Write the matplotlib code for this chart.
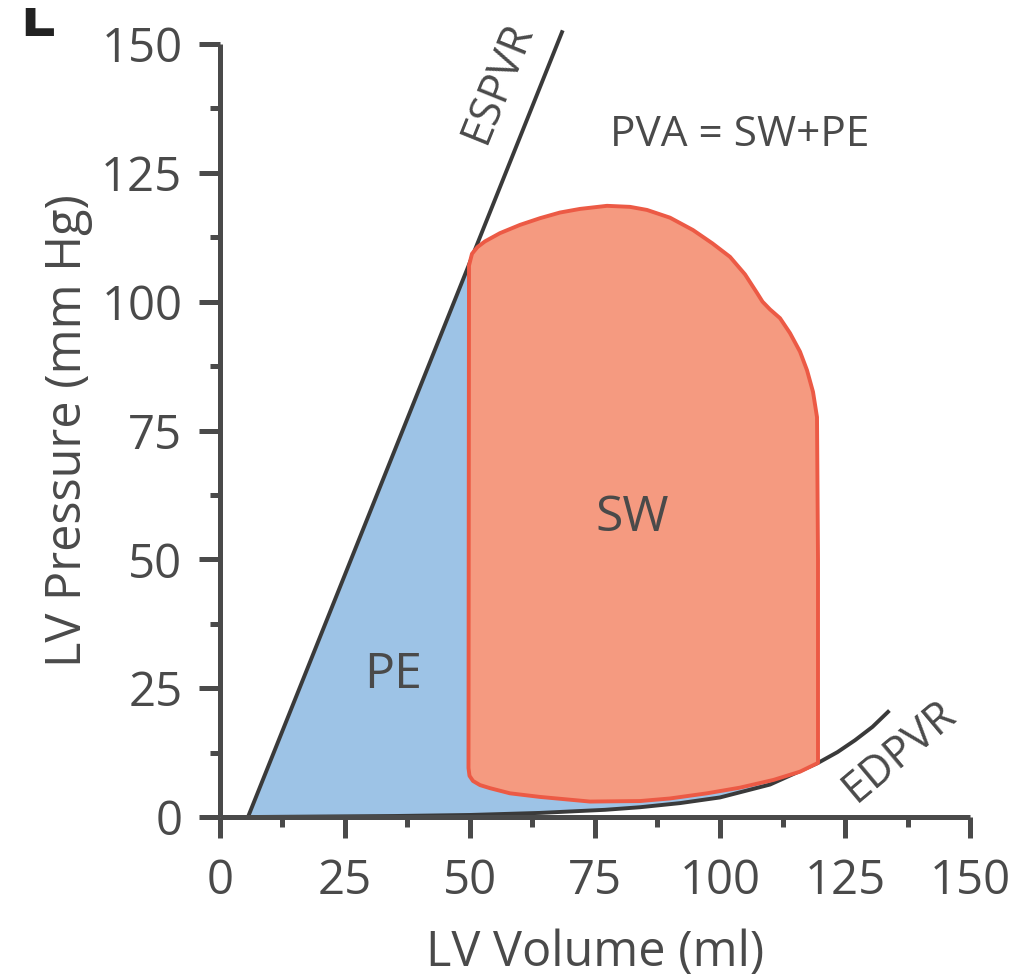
import matplotlib.pyplot as plt
from matplotlib.transforms import Bbox

plt.rcParams['font.family'] = ['Open Sans', 'DejaVu Sans']

# ESPVR (end-systolic pressure-volume relation), straight line
espvr_vol = [5.6, 68.4]
espvr_pres = [0, 152.3]

# EDPVR (end-diastolic pressure-volume relation)
edpvr_vol = [5.6, 20, 35, 50, 64, 77, 84, 92, 100, 110, 119.6, 123.5, 127, 130.5, 133.6]
edpvr_pres = [0, 0.1, 0.2, 0.4, 0.8, 1.4, 1.9, 2.7, 3.8, 6.3, 10.5, 12.6, 14.9, 17.5, 20.4]

# PV loop outline (counter-clockwise from top-left corner)
loop_vol = [50.4, 49.8, 49.7, 49.9, 50.6, 52.0, 54.0, 58.0, 64.0, 74.0, 84.0, 90.0,
            97.4, 104.0, 110.7, 116.0, 119.6,
            119.6, 119.4, 118.6, 117.4, 116.0, 114.0, 112.0, 110.0, 108.5, 107.4,
            105.0, 102.0, 98.5, 94.6, 90.0, 85.4, 82.0, 77.4, 72.0, 68.0, 64.0,
            60.0, 56.0, 53.0, 51.5]
loop_pres = [109.3, 107.0, 9.5, 8.0, 7.0, 6.2, 5.6, 4.6, 3.9, 3.0, 3.1, 3.6,
             4.6, 5.7, 7.2, 8.8, 10.5,
             50.0, 77.6, 82.5, 86.7, 90.3, 93.9, 96.8, 98.5, 100.0, 101.7,
             105.3, 108.7, 111.3, 113.9, 116.3, 117.8, 118.4, 118.6, 118.0, 117.3, 116.2,
             114.9, 113.3, 111.7, 110.6]

x_ticks = [0, 25, 50, 75, 100, 125, 150]
y_ticks = [0, 25, 50, 75, 100, 125, 150]
minor_ticks = [12.5, 37.5, 62.5, 87.5, 112.5, 137.5]

dark = '#4a4a4a'
blue = '#9dc3e6'
salmon = '#f59a80'
red = '#ec5a45'

fig = plt.figure(figsize=(10.17, 9.8), dpi=100)
ax = fig.add_axes([0.2163, 0.1663, 0.7375, 0.7888])

# blue potential energy area: ESPVR, under the loop, back along EDPVR
pe_vol = [espvr_vol[0], 50.0, 119.6] + edpvr_vol[::-1][5:]
pe_pres = [espvr_pres[0], 107.7, 10.5] + edpvr_pres[::-1][5:]
ax.fill(pe_vol, pe_pres, color=blue, lw=0, zorder=1)

ax.plot(espvr_vol, espvr_pres, color='#3a3a3a', lw=2.8, clip_on=False, zorder=2)
ax.plot(edpvr_vol, edpvr_pres, color='#3a3a3a', lw=2.8, clip_on=False, zorder=2)

ax.fill(loop_vol, loop_pres, facecolor=salmon, edgecolor=red, lw=2.8,
        joinstyle='round', zorder=3)

ax.text(34.6, 27.6, 'PE', fontsize=36, color=dark, ha='center', va='center', zorder=4)
ax.text(82.4, 58, 'SW', fontsize=36, color=dark, ha='center', va='center', zorder=4)
ax.text(104, 132.4, 'PVA = SW+PE', fontsize=30.5, color=dark, ha='center', va='center')
ax.text(55.5, 142.5, 'ESPVR', fontsize=31, color=dark, ha='center', va='center',
        rotation=68, rotation_mode='anchor')
ax.text(136, 12.8, 'EDPVR', fontsize=31, color=dark, ha='center', va='center',
        rotation=40, rotation_mode='anchor')

ax.set_xlim(0, 150)
ax.set_ylim(0, 150)
ax.set_xticks(x_ticks)
ax.set_yticks(y_ticks)
ax.set_xticks(minor_ticks, minor=True)
ax.set_yticks(minor_ticks, minor=True)
ax.tick_params(which='major', length=15, width=3.6, color=dark, labelsize=34,
               labelcolor=dark)
ax.tick_params(axis='x', which='major', pad=14)
ax.tick_params(axis='y', which='major', pad=12)
ax.tick_params(which='minor', length=7, width=3.6, color=dark)
for s in ['top', 'right']:
    ax.spines[s].set_visible(False)
for s in ['left', 'bottom']:
    ax.spines[s].set_linewidth(3.6)
    ax.spines[s].set_color(dark)
    ax.spines[s].set_capstyle('butt')

ax.set_xlabel('LV Volume (ml)', fontsize=35, color=dark, labelpad=17)
ax.set_ylabel('LV Pressure (mm Hg)', fontsize=35, color=dark, labelpad=6)

# cropped panel letter in the corner
t = fig.text(0.019, 1 - 36 / 980, 'L', fontsize=46, fontweight='bold', color='#222222',
             ha='left', va='baseline')
t.set_clip_box(Bbox.from_extents(0, 980 - 36, 120, 980 - 8))
t.set_clip_on(True)

fig.savefig('out.png', dpi=100)
